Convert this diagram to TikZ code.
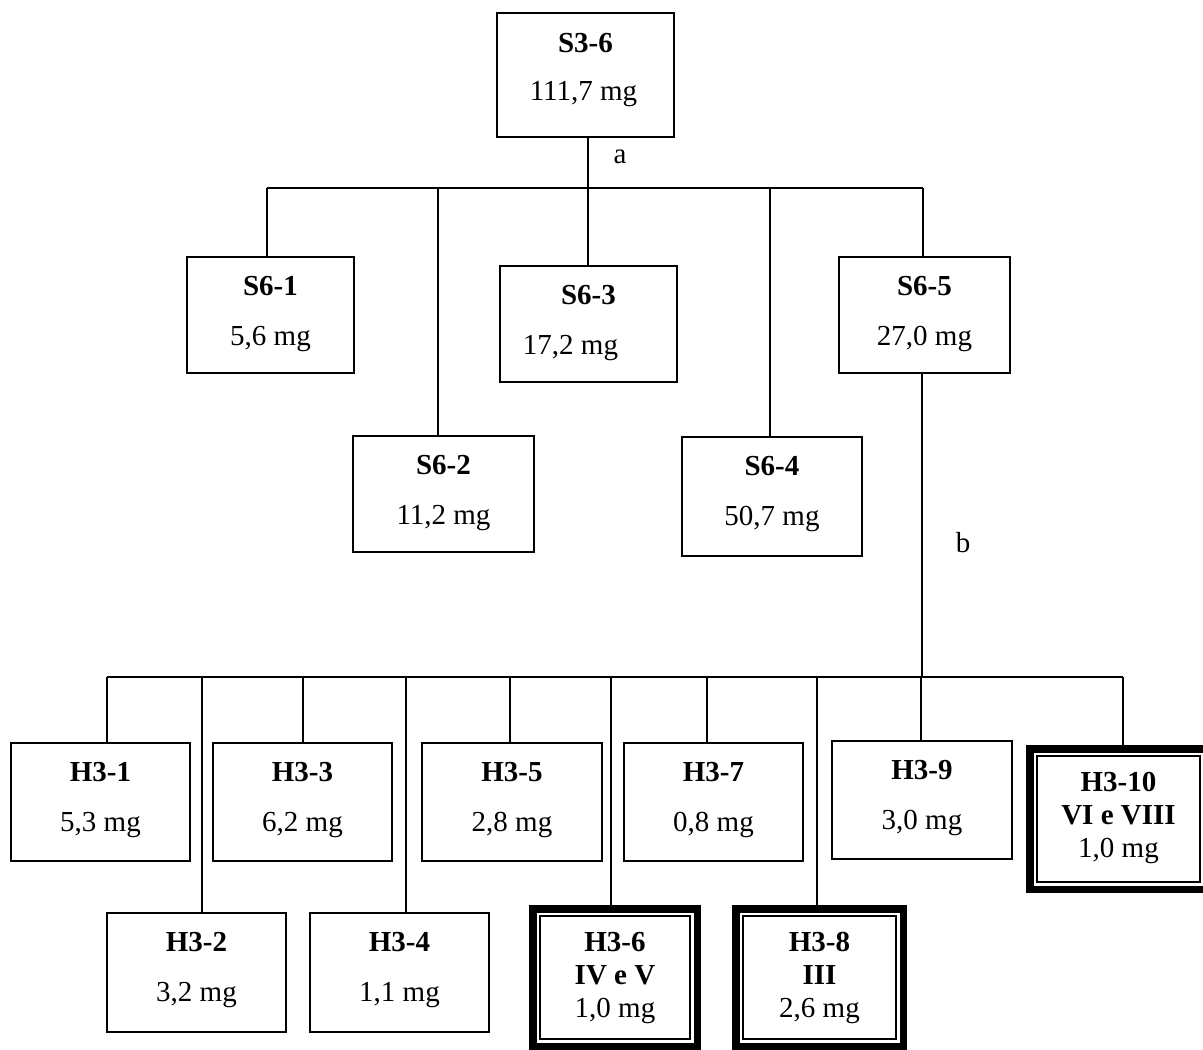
\documentclass[tikz,border=0pt]{standalone}
\usepackage{fontspec}
\setmainfont{Liberation Serif}
\begin{document}
\begin{tikzpicture}[x=1pt,y=-1pt,
  conn/.style={line width=1.6pt},
  plainbox/.style={draw,rectangle,line width=1.6pt,inner sep=0pt},
  heavybox/.style={draw,rectangle,line width=7.5pt,inner sep=0pt},
  innerframe/.style={draw=black,line width=1.8pt},
  ttl/.style={anchor=base,inner sep=0pt,font=\fontsize{29}{34}\selectfont\bfseries},
  val/.style={anchor=base,inner sep=0pt,font=\fontsize{29}{34}\selectfont},
]
\useasboundingbox (0,0) rectangle (1203,1050);
\clip (0,0) rectangle (1203,1050);

% ---- boxes ----
\node[plainbox,minimum width=177pt,minimum height=124pt] (s36) at (585.5,75) {};
\node[plainbox,minimum width=167pt,minimum height=116pt] (s61) at (270.5,315) {};
\node[plainbox,minimum width=181pt,minimum height=116pt] (s62) at (443.5,494) {};
\node[plainbox,minimum width=177pt,minimum height=116pt] (s63) at (588.5,324) {};
\node[plainbox,minimum width=180pt,minimum height=119pt] (s64) at (772,496.5) {};
\node[plainbox,minimum width=171pt,minimum height=116pt] (s65) at (924.5,315) {};

\node[plainbox,minimum width=179pt,minimum height=118pt] (h31) at (100.5,802) {};
\node[plainbox,minimum width=179pt,minimum height=118pt] (h33) at (302.5,802) {};
\node[plainbox,minimum width=180pt,minimum height=118pt] (h35) at (512,802) {};
\node[plainbox,minimum width=179pt,minimum height=118pt] (h37) at (713.5,802) {};
\node[plainbox,minimum width=180pt,minimum height=118pt] (h39) at (922,800) {};
\node[plainbox,minimum width=179pt,minimum height=119pt] (h32) at (196.5,972.5) {};
\node[plainbox,minimum width=179pt,minimum height=119pt] (h34) at (399.5,972.5) {};

\node[heavybox,minimum width=164.5pt,minimum height=137.5pt] (h36) at (615,977.5) {};
\node[heavybox,minimum width=167.5pt,minimum height=137.5pt] (h38) at (819.5,977.5) {};
\node[heavybox,minimum width=177.5pt,minimum height=140.5pt] (h310) at (1118.5,819) {};
% inner thin frames (centre line about 10.8 inside the outer edge)
\draw[innerframe] (539.8,915.8) rectangle (690.2,1039.2);
\draw[innerframe] (742.8,915.8) rectangle (896.2,1039.2);
\draw[innerframe] (1036.8,755.8) rectangle (1200.2,882.2);

% ---- texts ----
\node[ttl] (s36t) at ([yshift=-40pt]s36.north) {S3-6};
\node[val] (s36v) at ([xshift=-2pt,yshift=-88pt]s36.north) {111,7 mg};
\foreach \bx/\t/\v in {s61/S6-1/{5,6 mg},s62/S6-2/{11,2 mg},s64/S6-4/{50,7 mg},s65/S6-5/{27,0 mg},
  h31/H3-1/{5,3 mg},h33/H3-3/{6,2 mg},h35/H3-5/{2,8 mg},h37/H3-7/{0,8 mg},h39/H3-9/{3,0 mg},
  h32/H3-2/{3,2 mg},h34/H3-4/{1,1 mg}}{
  \node[ttl] (\bx t) at ([yshift=-39pt]\bx.north) {\t};
  \node[val] (\bx v) at ([yshift=-89pt]\bx.north) {\v};
}
\node[ttl] (s63t) at ([yshift=-39pt]s63.north) {S6-3};
\node[val] (s63v) at ([xshift=-18pt,yshift=-89pt]s63.north) {17,2 mg};

\foreach \bx/\t/\r/\v in {h36/H3-6/{IV e V}/{1,0 mg},h38/H3-8/{III}/{2,6 mg},h310/H3-10/{VI e VIII}/{1,0 mg}}{
  \node[ttl] (\bx t) at ([yshift=-46.25pt]\bx.north) {\t};
  \node[ttl] (\bx r) at ([yshift=-79.25pt]\bx.north) {\r};
  \node[val] (\bx v) at ([yshift=-112.5pt]\bx.north) {\v};
}

% ---- connectors, level 1 ----
\coordinate (j1) at (588,188);
\coordinate (d61) at (267,188);
\coordinate (d62) at (438,188);
\coordinate (d63) at (588,188);
\coordinate (d64) at (770,188);
\coordinate (d65) at (923,188);
\draw[conn] (s36.south -| j1) -- (j1);
\draw[conn] (d61) -- (d65);
\draw[conn] (d61) -- (d61 |- s61.north);
\draw[conn] (d62) -- (d62 |- s62.north);
\draw[conn] (d63) -- (d63 |- s63.north);
\draw[conn] (d64) -- (d64 |- s64.north);
\draw[conn] (d65) -- (d65 |- s65.north);
\node[val] (la) at (620,163) {a};

% ---- connectors, level 2 ----
\coordinate (j2) at (922,677);
\draw[conn] (s65.south -| j2) -- (j2);
\node[val] (lb) at (963,552) {b};
\foreach \n/\x in {h31/107,h32/202,h33/303,h34/406,h35/510,h36/611,h37/707,h38/817,h39/921,h310/1123}{
  \coordinate (e\n) at (\x,677);
  \draw[conn] (e\n) -- (e\n |- \n.north);
}
\draw[conn] (eh31) -- (eh310);
\end{tikzpicture}
\end{document}
